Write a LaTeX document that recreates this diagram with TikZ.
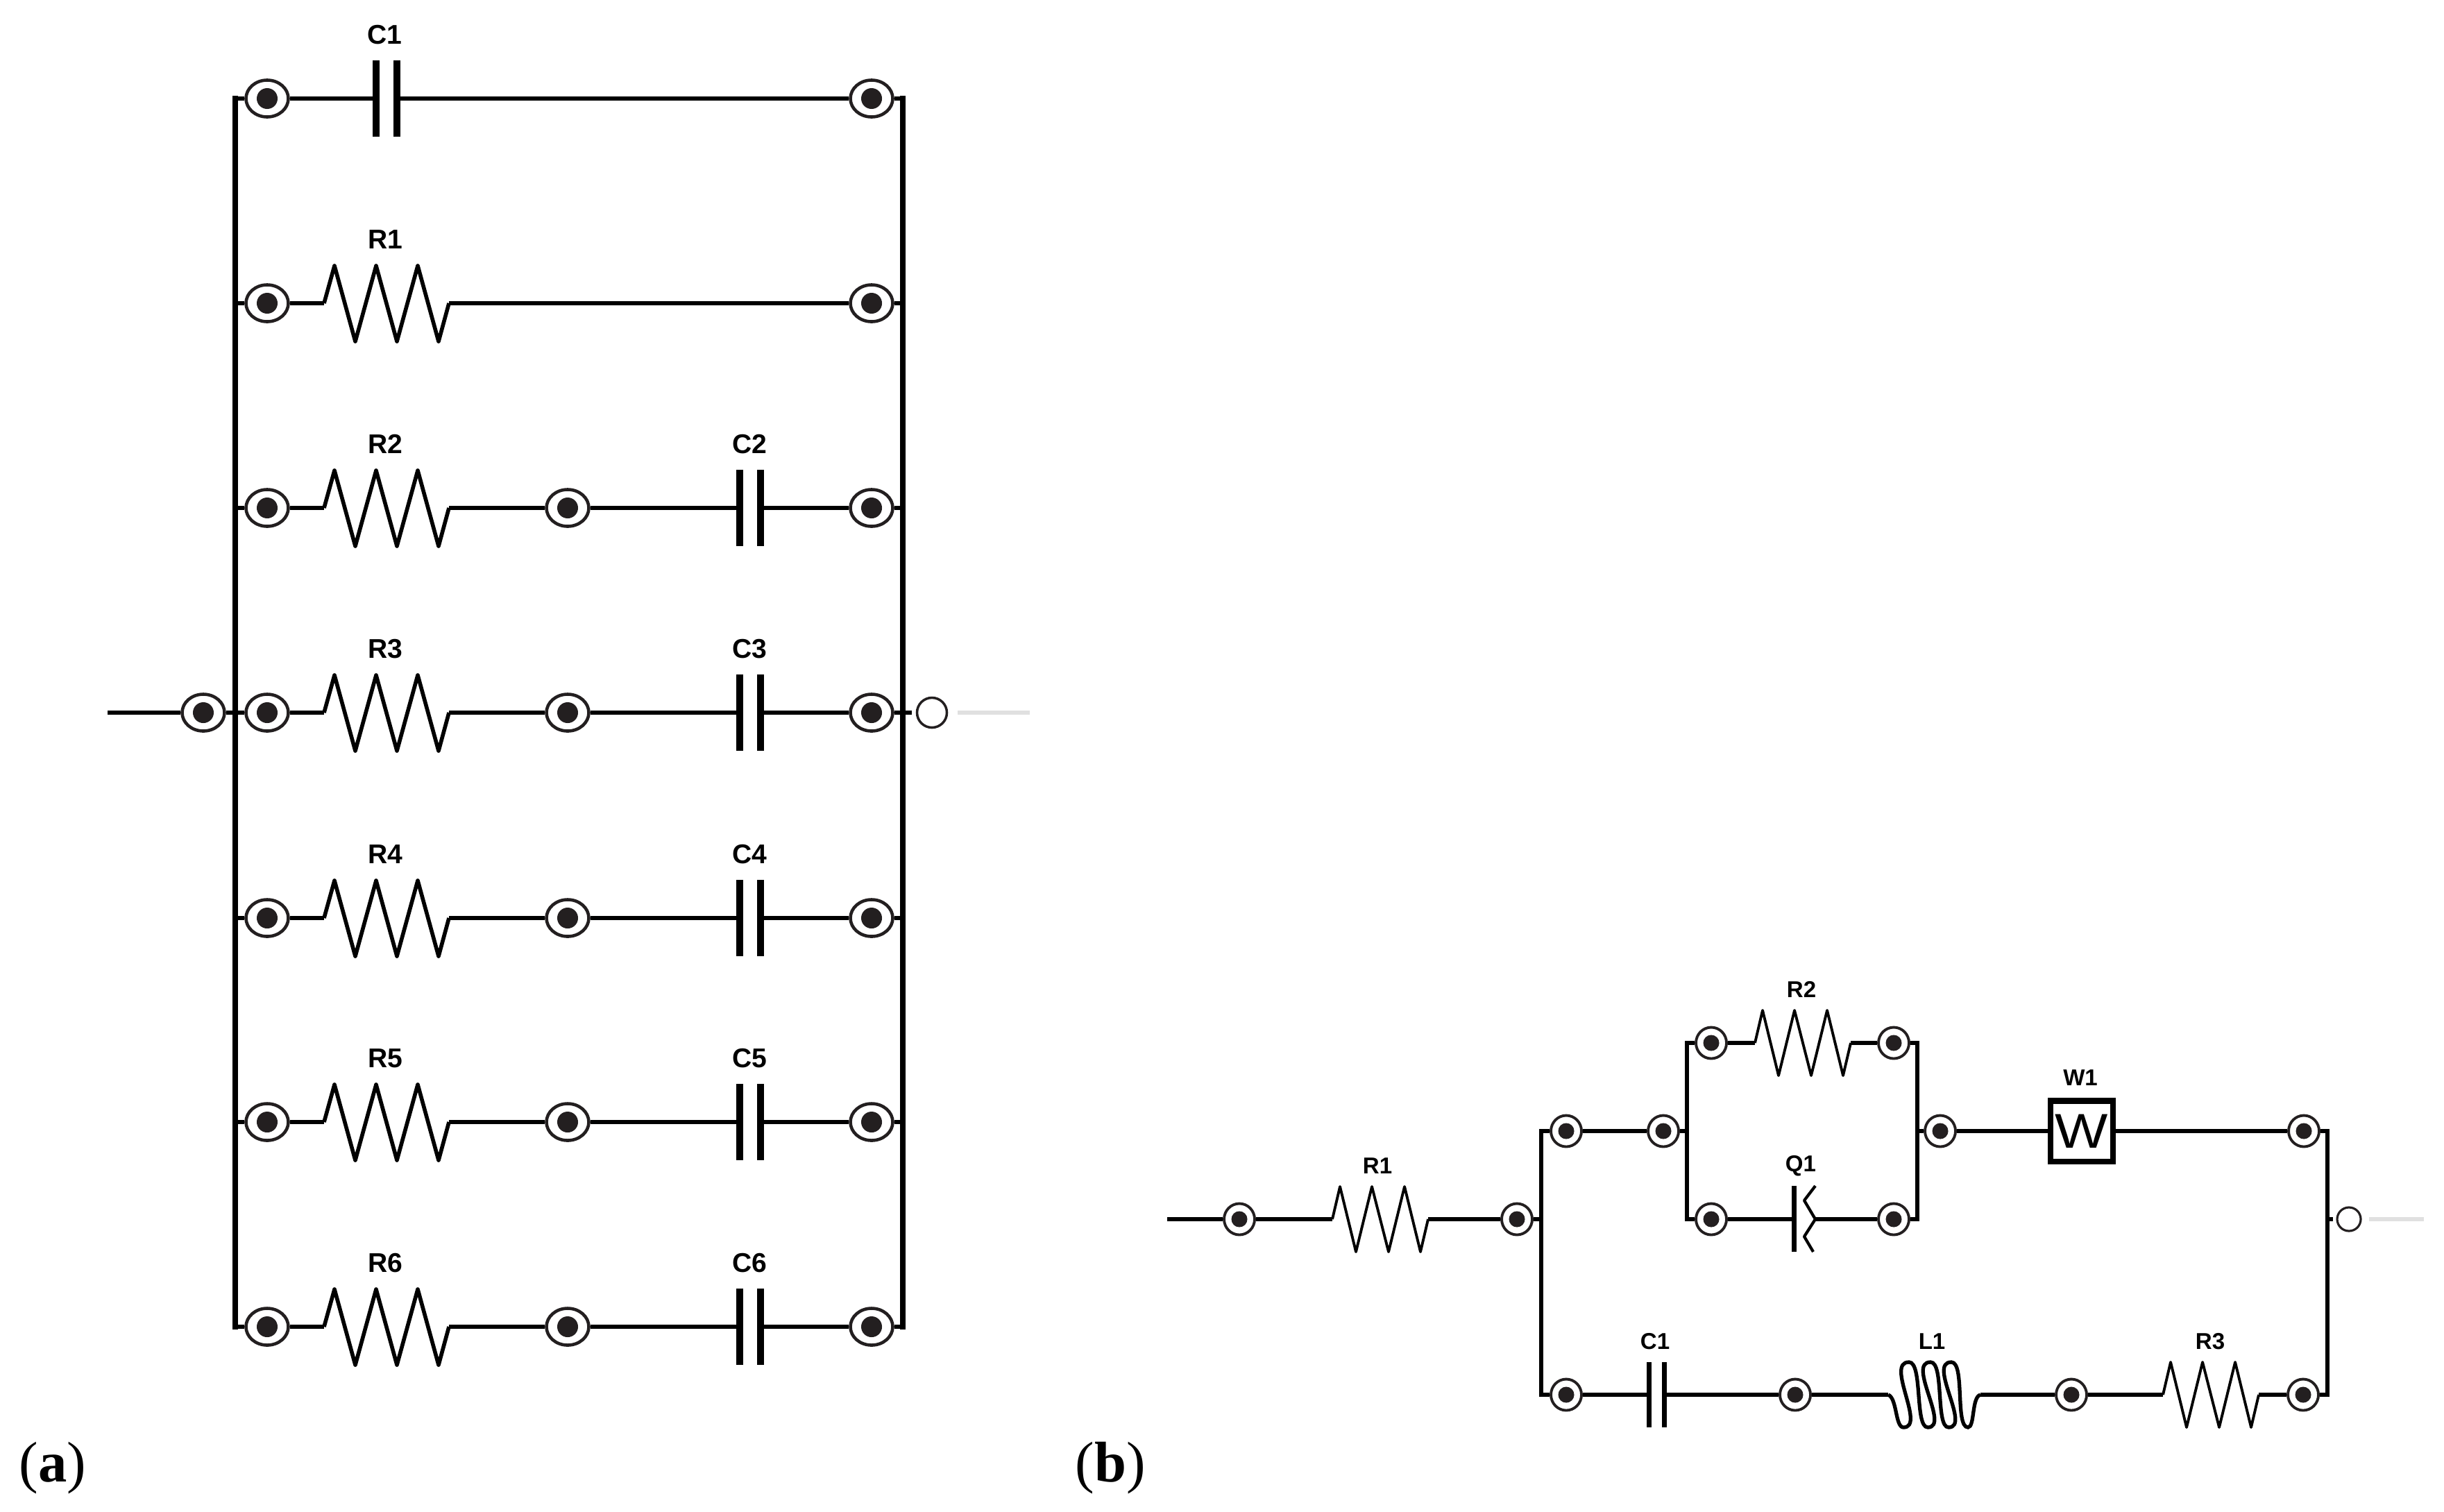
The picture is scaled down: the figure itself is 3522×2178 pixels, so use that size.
\documentclass[tikz,border=0pt]{standalone}
\usetikzlibrary{shapes.geometric}
\usepackage{fontspec}
\setmainfont{Liberation Serif}
\newfontfamily\labfont{Liberation Sans}
\definecolor{ink}{HTML}{231F20}
\tikzset{
  x=0.01cm, y=-0.01cm,
  wire/.style={line width=1.9pt, black},
  rail/.style={line width=2.2pt, black, line cap=rect},
  railb/.style={line width=1.8pt, black, line cap=rect},
  faded/.style={line width=1.9pt, black!12},
  terma/.style={ellipse, draw=ink, fill=white, line width=1.3pt, inner sep=0pt, minimum width=0.61cm, minimum height=0.53cm,
    path picture={\fill[ink] (path picture bounding box.center) circle (0.15cm);}},
  termb/.style={ellipse, draw=ink, fill=white, line width=1.1pt, inner sep=0pt, minimum width=0.44cm, minimum height=0.45cm,
    path picture={\fill[ink] (path picture bounding box.center) circle (0.115cm);}},
  opena/.style={circle, draw=ink, fill=white, line width=1pt, inner sep=0pt, minimum size=0.43cm},
  openb/.style={circle, draw=ink, fill=white, line width=0.9pt, inner sep=0pt, minimum size=0.34cm},
  laba/.style={inner sep=0pt, font=\labfont\bfseries\fontsize{11.1}{13}\selectfont},
  labb/.style={inner sep=0pt, font=\labfont\bfseries\fontsize{9.4}{12}\selectfont},
  panel/.style={anchor=base west, inner sep=0pt, font=\fontsize{23.5}{28}\selectfont},
  wbox/.style={draw=black, line width=2.3pt, fill=white, inner sep=0pt, minimum width=0.9cm, minimum height=0.87cm,
    font=\labfont\fontsize{20}{24}\selectfont},
  resa/.pic={
    \coordinate (-l) at (0,0); \coordinate (-r) at (180,0);
    \draw[line width=1.6pt, line join=round] (-l) -- (15,-54) -- (45,55) -- (75,-54) -- (105,55) -- (135,-54) -- (165,55) -- (-r);
  },
  resb/.pic={
    \coordinate (-l) at (0,0); \coordinate (-r) at (138,0);
    \draw[line width=1.1pt, line join=round] (-l) -- (11,-47) -- (34,47) -- (57,-47) -- (81,47) -- (104,-47) -- (127,47) -- (-r);
  },
  capa/.pic={
    \coordinate (-l) at (-15,0); \coordinate (-r) at (15,0);
    \draw[line width=2.6pt] (-l) ++(0,-55) -- ++(0,110);
    \draw[line width=2.6pt] (-r) ++(0,-55) -- ++(0,110);
  },
  capb/.pic={
    \coordinate (-l) at (-11,0); \coordinate (-r) at (11,0);
    \draw[line width=2pt] (-l) ++(0,-47) -- ++(0,94);
    \draw[line width=2pt] (-r) ++(0,-47) -- ++(0,94);
  },
  cpeb/.pic={
    \coordinate (-l) at (0,0); \coordinate (-r) at (31,0);
    \draw[line width=2pt] (0,-48) -- (0,47);
    \draw[line width=1.2pt, line join=round] (31,-48) -- (15,-27) -- (-r) -- (15,25) -- (28,47);
  },
  indb/.pic={
    \coordinate (-l) at (0,0); \coordinate (-r) at (133,0);
    \draw[line width=1.5pt] (-l) .. controls (13,5) and (10,47) .. (22,47)
      .. controls (55,47) and (-5,-47) .. (30,-47)
      .. controls (50,-47) and (38,47) .. (57,47)
      .. controls (90,47) and (26,-47) .. (61,-47)
      .. controls (81,-47) and (68,47) .. (87,47)
      .. controls (120,47) and (56,-47) .. (91,-47)
      .. controls (111,-47) and (96,47) .. (115,47)
      .. controls (125,47) and (120,3) .. (-r);
  },
}
\begin{document}
\begin{tikzpicture}
\useasboundingbox (0,0) rectangle (3522,2178);
% ---------- panel (a) ----------
\coordinate (LT) at (339,142); \coordinate (LB) at (339,1912);
\coordinate (RT) at (1301,142); \coordinate (RB) at (1301,1912);
\draw[rail] (LT) -- (LB);
\draw[rail] (RT) -- (RB);
% row 1
\node[terma] (a1l) at (385,142) {};
\node[terma] (a1r) at (1256,142) {};
\pic (aC1) at (557,142) {capa};
\node[laba] (aC1t) at (554,50) {C1};
\draw[wire] (a1l) -- (aC1-l);
\draw[wire] (aC1-r) -- (a1r);
\draw[wire] (a1l) -- (a1l -| LT);
\draw[wire] (a1r) -- (a1r -| RT);
% row 2
\node[terma] (a2l) at (385,437) {};
\node[terma] (a2r) at (1256,437) {};
\pic (aR1) at (467,437) {resa};
\node[laba] (aR1t) at (555,345) {R1};
\draw[wire] (a2l) -- (aR1-l);
\draw[wire] (aR1-r) -- (a2r);
\draw[wire] (a2l) -- (a2l -| LT);
\draw[wire] (a2r) -- (a2r -| RT);
% rows 3 to 7
\foreach \n/\y in {2/732,3/1027,4/1323,5/1617,6/1912}{
  \node[terma] (bl\n) at (385,\y) {};
  \node[terma] (bm\n) at (818,\y) {};
  \node[terma] (br\n) at (1256,\y) {};
  \pic (aR\n) at (467,\y) {resa};
  \pic (aC\n) at (1081,\y) {capa};
  \node[laba] (aR\n t) at (555,\y-92) {R\n};
  \node[laba] (aC\n t) at (1080,\y-92) {C\n};
  \draw[wire] (bl\n) -- (aR\n-l);
  \draw[wire] (aR\n-r) -- (bm\n);
  \draw[wire] (bm\n) -- (aC\n-l);
  \draw[wire] (aC\n-r) -- (br\n);
  \draw[wire] (bl\n) -- (bl\n -| LT);
  \draw[wire] (br\n) -- (br\n -| RT);
}
% input and output
\coordinate (ain) at (155,1027);
\node[terma] (ai) at (293,1027) {};
\draw[wire] (ain) -- (ai);
\draw[wire] (ai) -- (ai -| LT);
\coordinate (aoutA) at (1314,1027);
\node[opena] (ao) at (1343,1027) {};
\coordinate (aoutB) at (1380,1027); \coordinate (aoutC) at (1484,1027);
\draw[wire] (aoutA -| RT) -- (aoutA);
\draw[faded] (aoutB) -- (aoutC);
\node[panel] (pa) at (27,2135) {(\textbf{a})};
% ---------- panel (b) ----------
\coordinate (bLT) at (2221,1630); \coordinate (bLB) at (2221,2010);
\coordinate (bRT) at (3354,1630); \coordinate (bRB) at (3354,2010);
\coordinate (iLT) at (2431,1503); \coordinate (iLB) at (2431,1757);
\coordinate (iRT) at (2763,1503); \coordinate (iRB) at (2763,1757);
\draw[railb] (bLT) -- (bLB);
\draw[railb] (bRT) -- (bRB);
\draw[railb] (iLT) -- (iLB);
\draw[railb] (iRT) -- (iRB);
\coordinate (bin) at (1682,1757);
\node[termb] (t1) at (1786,1757) {};
\pic (bR1) at (1920,1757) {resb};
\node[labb] (bR1t) at (1985,1680) {R1};
\node[termb] (t2) at (2186,1757) {};
\draw[wire] (bin) -- (t1);
\draw[wire] (t1) -- (bR1-l);
\draw[wire] (bR1-r) -- (t2);
\draw[wire] (t2) -- (t2 -| bLT);
\node[termb] (t3) at (2257,1630) {};
\node[termb] (t4) at (2397,1630) {};
\draw[wire] (bLT) -- (t3);
\draw[wire] (t3) -- (t4);
\draw[wire] (t4) -- (t4 -| iLT);
\node[termb] (t5) at (2466,1503) {};
\node[termb] (t6) at (2729,1503) {};
\pic (bR2) at (2529,1503) {resb};
\node[labb] (bR2t) at (2596,1426) {R2};
\draw[wire] (iLT) -- (t5);
\draw[wire] (t5) -- (bR2-l);
\draw[wire] (bR2-r) -- (t6);
\draw[wire] (t6) -- (iRT);
\node[termb] (t7) at (2466,1757) {};
\node[termb] (t8) at (2729,1757) {};
\pic (bQ1) at (2585,1757) {cpeb};
\node[labb] (bQ1t) at (2595,1680) {Q1};
\draw[wire] (iLB) -- (t7);
\draw[wire] (t7) -- (bQ1-l);
\draw[wire] (bQ1-r) -- (t8);
\draw[wire] (t8) -- (iRB);
\node[termb] (t9) at (2796,1630) {};
\node[wbox] (W) at (3000,1630) {\raisebox{-3pt}{\scalebox{1.15}[1]{W}}};
\node[labb] (bW1t) at (2998,1553) {W1};
\node[termb] (t10) at (3320,1630) {};
\draw[wire] (t9 -| iRT) -- (t9);
\draw[wire] (t9) -- (W);
\draw[wire] (W) -- (t10);
\draw[wire] (t10) -- (bRT);
\coordinate (boutA) at (3362,1757);
\node[openb] (bo) at (3385,1757) {};
\coordinate (boutB) at (3414,1757); \coordinate (boutC) at (3493,1757);
\draw[wire] (boutA -| bRT) -- (boutA);
\draw[faded] (boutB) -- (boutC);
% bottom branch
\node[termb] (t11) at (2257,2010) {};
\pic (bC1) at (2387,2010) {capb};
\node[labb] (bC1t) at (2385,1933) {C1};
\node[termb] (t12) at (2587,2010) {};
\pic (bL1) at (2721,2010) {indb};
\node[labb] (bL1t) at (2784,1933) {L1};
\node[termb] (t13) at (2985,2010) {};
\pic (bR3) at (3117,2010) {resb};
\node[labb] (bR3t) at (3185,1933) {R3};
\node[termb] (t14) at (3319,2010) {};
\draw[wire] (bLB) -- (t11);
\draw[wire] (t11) -- (bC1-l);
\draw[wire] (bC1-r) -- (t12);
\draw[wire] (t12) -- (bL1-l);
\draw[wire] (bL1-r) -- (t13);
\draw[wire] (t13) -- (bR3-l);
\draw[wire] (bR3-r) -- (t14);
\draw[wire] (t14) -- (bRB);
\node[panel] (pb) at (1549,2135) {(\textbf{b})};
\end{tikzpicture}
\end{document}
